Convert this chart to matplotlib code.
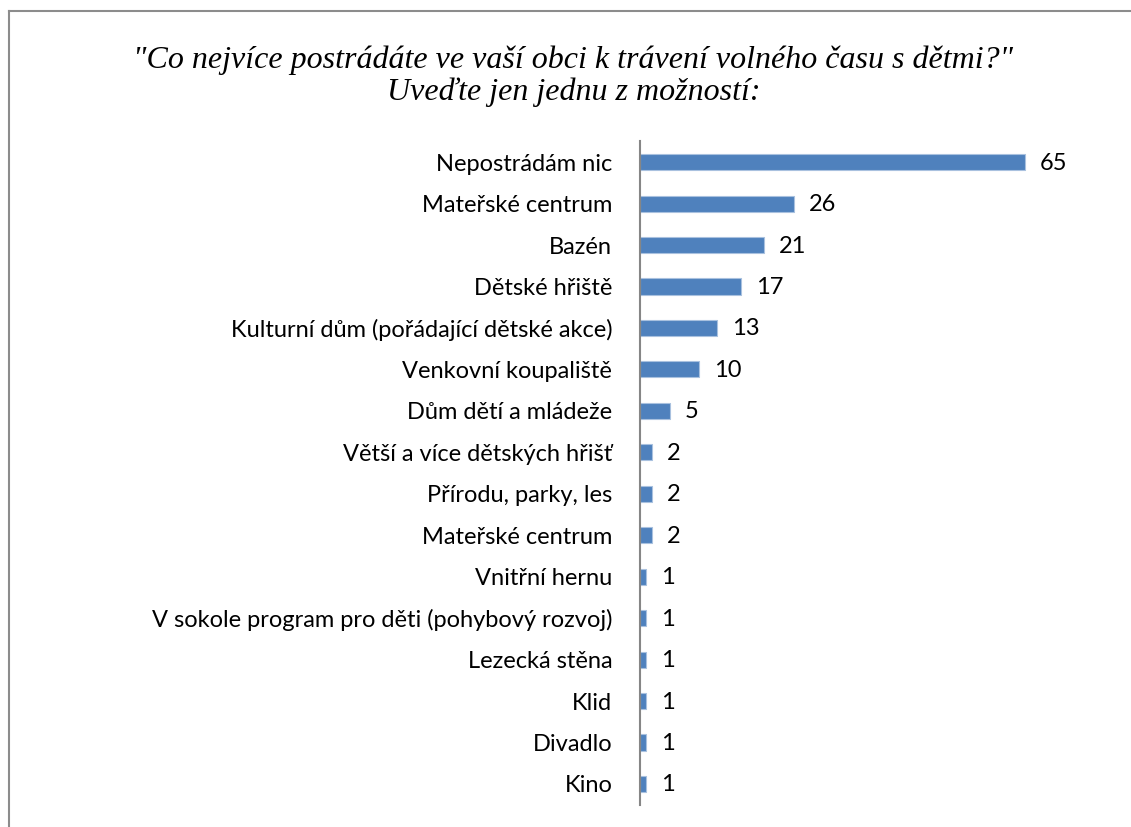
import matplotlib

matplotlib.use("Agg")
import matplotlib.pyplot as plt  # noqa: E402
from matplotlib.lines import Line2D  # noqa: E402

# Data, top to bottom as in the chart
categories = [
    "Nepostrádám nic",
    "Mateřské centrum",
    "Bazén",
    "Dětské hřiště",
    "Kulturní dům (pořádající dětské akce)",
    "Venkovní koupaliště",
    "Dům dětí a mládeže",
    "Větší a více dětských hřišť",
    "Přírodu, parky, les",
    "Mateřské centrum",
    "Vnitřní hernu",
    "V sokole program pro děti (pohybový rozvoj)",
    "Lezecká stěna",
    "Klid",
    "Divadlo",
    "Kino",
]
values = [65, 26, 21, 17, 13, 10, 5, 2, 2, 2, 1, 1, 1, 1, 1, 1]

title = ('"Co nejvíce postrádáte ve vaší obci k trávení volného času s dětmi?"\n'
         "Uveďte jen jednu z možností:")

fig = plt.figure(figsize=(11.31, 8.27), dpi=100)
ax = fig.add_axes([0.5659, 0.027, 0.3664, 0.802])

pos = list(range(len(values)))
ax.barh(pos, values, height=0.39, color="#4F81BD", edgecolor="#A9C1DF", linewidth=0.8)
ax.set_ylim(len(values) - 0.5, -0.5)
ax.set_xlim(0, 70)

# popisky hodnot vpravo od sloupců
for p, v in zip(pos, values):
    ax.annotate(str(v), (v, p), xytext=(15, -1), textcoords="offset pixels",
                va="center", ha="left", fontsize=17, family="Lato")

ax.set_yticks(pos)
ax.set_yticklabels(categories, fontsize=17, family="Lato")
ax.tick_params(axis="y", length=0, pad=20)
ax.set_xticks([])
for s in ["top", "right", "bottom"]:
    ax.spines[s].set_visible(False)
ax.spines["left"].set_color("#868686")
ax.spines["left"].set_linewidth(1.5)

fig.text(0.507, 0.908, title, ha="center", va="center", fontsize=23,
         family="Liberation Serif", style="italic", linespacing=1.12)

# rámeček grafu: jen horní a levá hrana jsou v obrázku vidět
x0, y0 = 9 / 1131, 1 - 11 / 827
fig.add_artist(Line2D([x0, 1.0], [y0, y0], transform=fig.transFigure,
                      color="#8C8C8C", lw=1.5))
fig.add_artist(Line2D([x0, x0], [0.0, y0], transform=fig.transFigure,
                      color="#8C8C8C", lw=1.5))

fig.savefig("out.png", dpi=100)
